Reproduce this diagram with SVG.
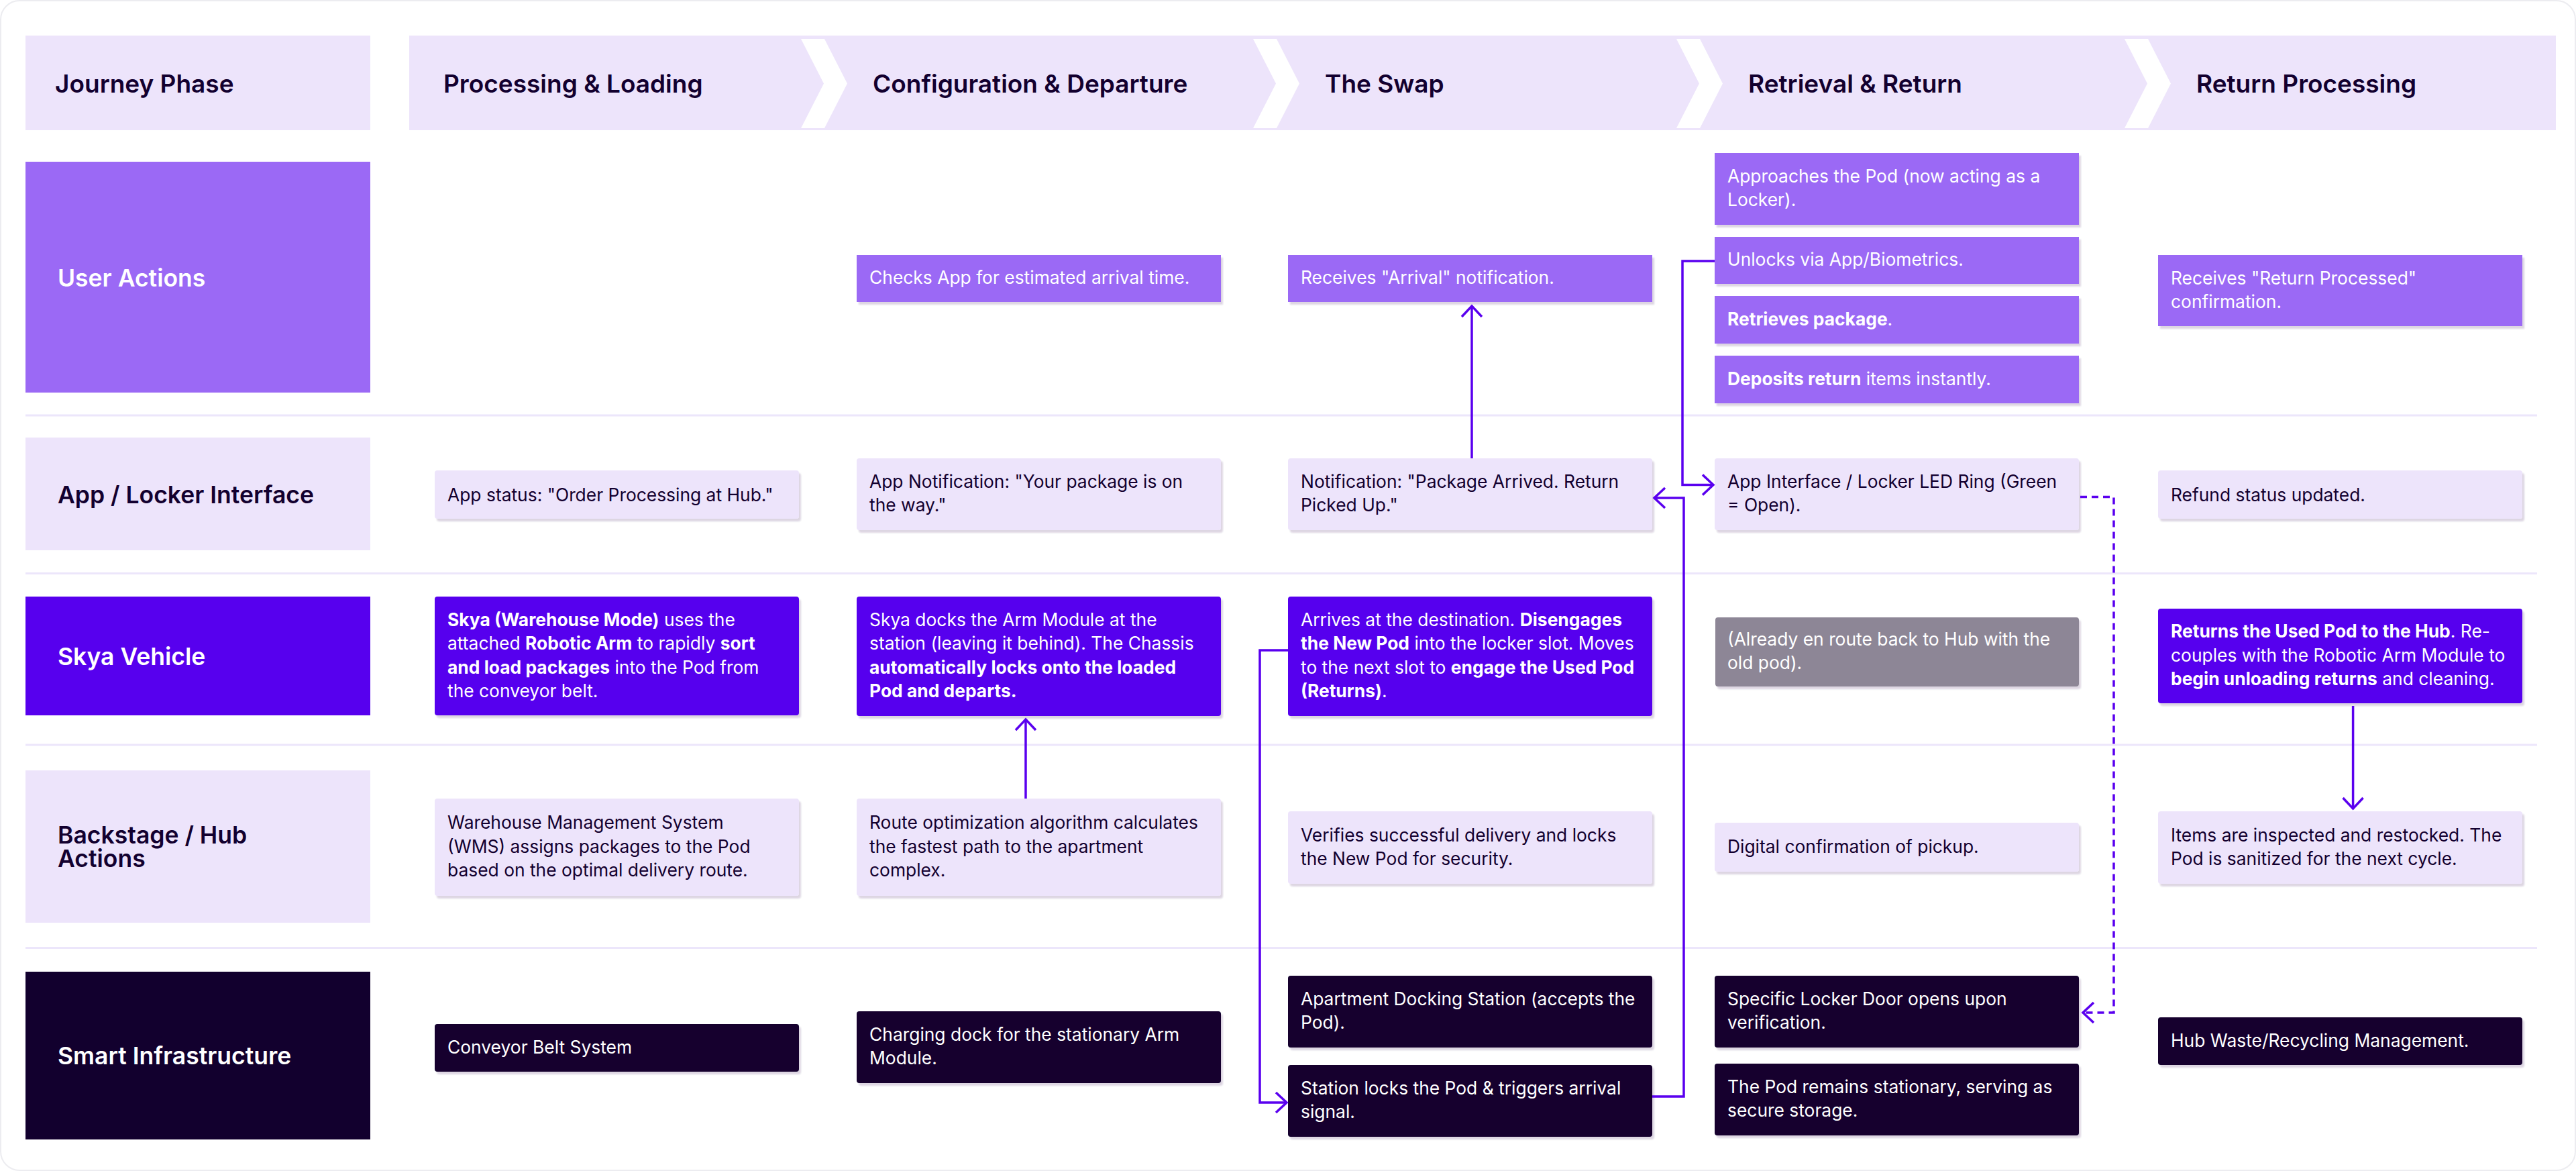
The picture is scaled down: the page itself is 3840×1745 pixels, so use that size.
<svg xmlns="http://www.w3.org/2000/svg" width="3840" height="1745" viewBox="0 0 3840 1745">
<defs>
<style>
.lane{font-family:Inter,"Liberation Sans",sans-serif;font-size:35.5px;font-weight:600}
.hdr{font-family:Inter,"Liberation Sans",sans-serif;font-size:37px;font-weight:600;fill:#13002f}
.t{font-family:Inter,"Liberation Sans",sans-serif;font-size:26.4px;font-weight:400}
.b{font-weight:700}
.dk{fill:#13002f}
.wt{fill:#ffffff}
.c-purple{fill:#9b69f5}
.c-light{fill:#ede4fb}
.c-violet{fill:#5700ee}
.c-dark{fill:#12002e}
.c-gray{fill:#8d8696}
.sep{stroke:#ece6fb;stroke-width:3}
.conn{fill:none;stroke:#5a00ef;stroke-width:3.5}
.dash{stroke-dasharray:10 7}
</style>
<filter id="sh" x="-5%" y="-10%" width="110%" height="130%">
<feDropShadow dx="3" dy="4" stdDeviation="1.2" flood-color="#2a1450" flood-opacity="0.16"/>
</filter>
<marker id="arr" viewBox="0 0 22 34" refX="19" refY="17" markerWidth="22" markerHeight="34" markerUnits="userSpaceOnUse" orient="auto">
<path d="M3,2 L19,17 L3,32" fill="none" stroke="#5a00ef" stroke-width="3.5"/>
</marker>
</defs>
<rect x="1" y="1" width="3838" height="1743" rx="28" fill="#ffffff" stroke="#ececf0" stroke-width="2"/>

<!-- header -->
<g id="header">
<rect x="38" y="53" width="514" height="141" class="c-light"/>
<text x="82" y="137.5" class="hdr">Journey Phase</text>
<rect x="610" y="53" width="3200" height="141" class="c-light"/>
<polygon points="1194,58 1229,58 1263,124.5 1229,191 1194,191 1228,124.5" fill="#ffffff"/>
<polygon points="1868,58 1903,58 1937,124.5 1903,191 1868,191 1902,124.5" fill="#ffffff"/>
<polygon points="2499,58 2534,58 2568,124.5 2534,191 2499,191 2533,124.5" fill="#ffffff"/>
<polygon points="3167,58 3202,58 3236,124.5 3202,191 3167,191 3201,124.5" fill="#ffffff"/>
<text x="661" y="137.5" class="hdr">Processing &amp; Loading</text>
<text x="1301" y="137.5" class="hdr">Configuration &amp; Departure</text>
<text x="1975" y="137.5" class="hdr">The Swap</text>
<text x="2606" y="137.5" class="hdr">Retrieval &amp; Return</text>
<text x="3274" y="137.5" class="hdr">Return Processing</text>
</g>

<!-- separators -->
<g id="separators">
<line x1="38" y1="619" x2="3782" y2="619" class="sep"/>
<line x1="38" y1="854.5" x2="3782" y2="854.5" class="sep"/>
<line x1="38" y1="1110" x2="3782" y2="1110" class="sep"/>
<line x1="38" y1="1412.5" x2="3782" y2="1412.5" class="sep"/>
</g>

<!-- lanes -->
<g id="lane-user"><rect x="38" y="241" width="514" height="344" class="c-purple"/><text x="86" y="426.5" class="lane wt">User Actions</text></g>
<g id="lane-app"><rect x="38" y="652" width="514" height="168" class="c-light"/><text x="86" y="749.5" class="lane dk">App / Locker Interface</text></g>
<g id="lane-skya"><rect x="38" y="889" width="514" height="177" class="c-violet"/><text x="86" y="990.5" class="lane wt">Skya Vehicle</text></g>
<g id="lane-backstage"><rect x="38" y="1148" width="514" height="227" class="c-light"/><text class="lane dk"><tspan x="86" y="1256.5">Backstage / Hub</tspan><tspan x="86" y="1291.5">Actions</tspan></text></g>
<g id="lane-infra"><rect x="38" y="1448" width="514" height="250" class="c-dark"/><text x="86" y="1586" class="lane wt">Smart Infrastructure</text></g>

<!-- column 1 -->
<g id="c1-app"><rect x="648" y="701" width="543" height="72" rx="4" class="c-light" filter="url(#sh)"/><text x="667" y="747" class="t dk">App status: "Order Processing at Hub."</text></g>
<g id="c1-skya"><rect x="648" y="889" width="543" height="177" rx="4" class="c-violet" filter="url(#sh)"/><text class="t wt"><tspan x="667" y="933"><tspan class="b">Skya (Warehouse Mode)</tspan> uses the</tspan><tspan x="667" y="968.3">attached <tspan class="b">Robotic Arm</tspan> to rapidly <tspan class="b">sort</tspan></tspan><tspan x="667" y="1003.7"><tspan class="b">and load packages</tspan> into the Pod from</tspan><tspan x="667" y="1039">the conveyor belt.</tspan></text></g>
<g id="c1-backstage"><rect x="648" y="1190" width="543" height="145" rx="4" class="c-light" filter="url(#sh)"/><text class="t dk"><tspan x="667" y="1235">Warehouse Management System</tspan><tspan x="667" y="1270.5">(WMS) assigns packages to the Pod</tspan><tspan x="667" y="1306">based on the optimal delivery route.</tspan></text></g>
<g id="c1-infra"><rect x="648" y="1526" width="543" height="71" rx="4" class="c-dark" filter="url(#sh)"/><text x="667" y="1569.5" class="t wt">Conveyor Belt System</text></g>

<!-- column 2 -->
<g id="c2-user"><rect x="1277" y="380" width="543" height="70" class="c-purple" filter="url(#sh)"/><text x="1296" y="423" class="t wt">Checks App for estimated arrival time.</text></g>
<g id="c2-app"><rect x="1277" y="683" width="543" height="107" rx="4" class="c-light" filter="url(#sh)"/><text class="t dk"><tspan x="1296" y="727">App Notification: "Your package is on</tspan><tspan x="1296" y="762.3">the way."</tspan></text></g>
<g id="c2-skya"><rect x="1277" y="889" width="543" height="178" rx="4" class="c-violet" filter="url(#sh)"/><text class="t wt"><tspan x="1296" y="933">Skya docks the Arm Module at the</tspan><tspan x="1296" y="968.3">station (leaving it behind). The Chassis</tspan><tspan x="1296" y="1003.7" class="b">automatically locks onto the loaded</tspan><tspan x="1296" y="1039" class="b">Pod and departs.</tspan></text></g>
<g id="c2-backstage"><rect x="1277" y="1190" width="543" height="145" rx="4" class="c-light" filter="url(#sh)"/><text class="t dk"><tspan x="1296" y="1235">Route optimization algorithm calculates</tspan><tspan x="1296" y="1270.5">the fastest path to the apartment</tspan><tspan x="1296" y="1306">complex.</tspan></text></g>
<g id="c2-infra"><rect x="1277" y="1507" width="543" height="107" rx="4" class="c-dark" filter="url(#sh)"/><text class="t wt"><tspan x="1296" y="1551">Charging dock for the stationary Arm</tspan><tspan x="1296" y="1586.3">Module.</tspan></text></g>

<!-- column 3 -->
<g id="c3-user"><rect x="1920" y="380" width="543" height="70" class="c-purple" filter="url(#sh)"/><text x="1939" y="423" class="t wt">Receives "Arrival" notification.</text></g>
<g id="c3-app"><rect x="1920" y="683" width="543" height="107" rx="4" class="c-light" filter="url(#sh)"/><text class="t dk"><tspan x="1939" y="727">Notification: "Package Arrived. Return</tspan><tspan x="1939" y="762.3">Picked Up."</tspan></text></g>
<g id="c3-skya"><rect x="1920" y="889" width="543" height="178" rx="4" class="c-violet" filter="url(#sh)"/><text class="t wt"><tspan x="1939" y="933">Arrives at the destination. <tspan class="b">Disengages</tspan></tspan><tspan x="1939" y="968.3"><tspan class="b">the New Pod</tspan> into the locker slot. Moves</tspan><tspan x="1939" y="1003.7">to the next slot to <tspan class="b">engage the Used Pod</tspan></tspan><tspan x="1939" y="1039"><tspan class="b">(Returns)</tspan>.</tspan></text></g>
<g id="c3-backstage"><rect x="1920" y="1209" width="543" height="108" rx="4" class="c-light" filter="url(#sh)"/><text class="t dk"><tspan x="1939" y="1253.5">Verifies successful delivery and locks</tspan><tspan x="1939" y="1288.8">the New Pod for security.</tspan></text></g>
<g id="c3-infra-a"><rect x="1920" y="1454" width="543" height="107" rx="4" class="c-dark" filter="url(#sh)"/><text class="t wt"><tspan x="1939" y="1498">Apartment Docking Station (accepts the</tspan><tspan x="1939" y="1533.3">Pod).</tspan></text></g>
<g id="c3-infra-b"><rect x="1920" y="1587" width="543" height="107" rx="4" class="c-dark" filter="url(#sh)"/><text class="t wt"><tspan x="1939" y="1631">Station locks the Pod &amp; triggers arrival</tspan><tspan x="1939" y="1666.3">signal.</tspan></text></g>

<!-- column 4 -->
<g id="c4-user-a"><rect x="2556" y="228" width="543" height="107" class="c-purple" filter="url(#sh)"/><text class="t wt"><tspan x="2575" y="272">Approaches the Pod (now acting as a</tspan><tspan x="2575" y="307.3">Locker).</tspan></text></g>
<g id="c4-user-b"><rect x="2556" y="353" width="543" height="70" class="c-purple" filter="url(#sh)"/><text x="2575" y="396" class="t wt">Unlocks via App/Biometrics.</text></g>
<g id="c4-user-c"><rect x="2556" y="441" width="543" height="71" class="c-purple" filter="url(#sh)"/><text x="2575" y="484.5" class="t wt"><tspan class="b">Retrieves package</tspan>.</text></g>
<g id="c4-user-d"><rect x="2556" y="530" width="543" height="71" class="c-purple" filter="url(#sh)"/><text x="2575" y="573.5" class="t wt"><tspan class="b">Deposits return</tspan> items instantly.</text></g>
<g id="c4-app"><rect x="2556" y="683" width="543" height="107" rx="4" class="c-light" filter="url(#sh)"/><text class="t dk"><tspan x="2575" y="727">App Interface / Locker LED Ring (Green</tspan><tspan x="2575" y="762.3">= Open).</tspan></text></g>
<g id="c4-skya"><rect x="2557" y="920" width="542" height="103" rx="4" class="c-gray" filter="url(#sh)"/><text class="t wt"><tspan x="2575" y="962">(Already en route back to Hub with the</tspan><tspan x="2575" y="997.3">old pod).</tspan></text></g>
<g id="c4-backstage"><rect x="2556" y="1226" width="543" height="73" rx="4" class="c-light" filter="url(#sh)"/><text x="2575" y="1270.5" class="t dk">Digital confirmation of pickup.</text></g>
<g id="c4-infra-a"><rect x="2556" y="1454" width="543" height="107" rx="4" class="c-dark" filter="url(#sh)"/><text class="t wt"><tspan x="2575" y="1498">Specific Locker Door opens upon</tspan><tspan x="2575" y="1533.3">verification.</tspan></text></g>
<g id="c4-infra-b"><rect x="2556" y="1585" width="543" height="107" rx="4" class="c-dark" filter="url(#sh)"/><text class="t wt"><tspan x="2575" y="1629">The Pod remains stationary, serving as</tspan><tspan x="2575" y="1664.3">secure storage.</tspan></text></g>

<!-- column 5 -->
<g id="c5-user"><rect x="3217" y="380" width="543" height="106" class="c-purple" filter="url(#sh)"/><text class="t wt"><tspan x="3236" y="423.5">Receives "Return Processed"</tspan><tspan x="3236" y="458.8">confirmation.</tspan></text></g>
<g id="c5-app"><rect x="3217" y="701" width="543" height="72" rx="4" class="c-light" filter="url(#sh)"/><text x="3236" y="747" class="t dk">Refund status updated.</text></g>
<g id="c5-skya"><rect x="3217" y="907" width="543" height="141" rx="4" class="c-violet" filter="url(#sh)"/><text class="t wt"><tspan x="3236" y="950"><tspan class="b">Returns the Used Pod to the Hub</tspan>. Re-</tspan><tspan x="3236" y="985.5">couples with the Robotic Arm Module to</tspan><tspan x="3236" y="1021"><tspan class="b">begin unloading returns</tspan> and cleaning.</tspan></text></g>
<g id="c5-backstage"><rect x="3217" y="1209" width="543" height="108" rx="4" class="c-light" filter="url(#sh)"/><text class="t dk"><tspan x="3236" y="1253.5">Items are inspected and restocked. The</tspan><tspan x="3236" y="1288.8">Pod is sanitized for the next cycle.</tspan></text></g>
<g id="c5-infra"><rect x="3217" y="1516" width="543" height="71" rx="4" class="c-dark" filter="url(#sh)"/><text x="3236" y="1559.5" class="t wt">Hub Waste/Recycling Management.</text></g>

<!-- connectors -->
<g id="connectors">
<path d="M2194,683 V456" class="conn" marker-end="url(#arr)"/>
<path d="M1529,1190 V1072" class="conn" marker-end="url(#arr)"/>
<path d="M1920,969 H1878 V1643 H1918" class="conn" marker-end="url(#arr)"/>
<path d="M2556,389 H2508 V722.5 H2554" class="conn" marker-end="url(#arr)"/>
<path d="M2463,1634 H2510 V742 H2466" class="conn" marker-end="url(#arr)"/>
<path d="M3101,740.5 H3151 V1509 H3105" class="conn dash" marker-end="url(#arr)"/>
<path d="M3507.6,1052 V1205" class="conn" marker-end="url(#arr)"/>
</g>
</svg>
